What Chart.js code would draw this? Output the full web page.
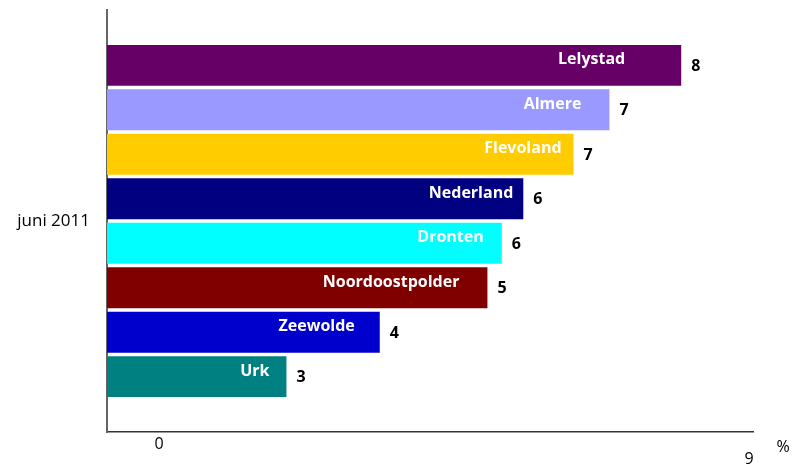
<!DOCTYPE html>
<html><head><meta charset="utf-8">
<script src="https://cdn.jsdelivr.net/npm/chart.js@4"></script>
<style>html,body{margin:0;padding:0;background:#fff}#w{width:795px;height:468px}</style>
</head><body><div id="w"><canvas id="c" width="795" height="468"></canvas></div>
<script>
const categories = ['juni 2011'];
const seriesNames = ['Lelystad','Almere','Flevoland','Nederland','Dronten','Noordoostpolder','Zeewolde','Urk'];
const seriesValues = [8.0, 7.0, 6.5, 5.8, 5.5, 5.3, 3.8, 2.5];
const valueLabels = ['8','7','7','6','6','5','4','3'];
const xTickLabels = ['0','9'];
const xUnit = '%';

const colors = ['#660066','#9999FF','#FFCC00','#000080','#00FFFF','#800000','#0000CC','#008080'];
const nameInsets = [56,28,12,10,18,28,25,17];
const FONT = '"Open Sans", sans-serif';

const labelPlugin = {
  id:'labels',
  afterDatasetsDraw(chart){
    const ctx = chart.ctx;
    ctx.save();
    chart.data.datasets.forEach((ds,i)=>{
      const bar = chart.getDatasetMeta(i).data[0];
      const top = bar.y - bar.height/2;
      ctx.font = 'bold 16px ' + FONT;
      ctx.fillStyle = '#ffffff';
      ctx.textAlign = 'right';
      ctx.textBaseline = 'middle';
      ctx.fillText(ds.label, bar.x - nameInsets[i], top + 15);
      ctx.font = 'bold 16px ' + FONT;
      ctx.fillStyle = '#000000';
      ctx.textAlign = 'left';
      ctx.fillText(valueLabels[i], bar.x + 10, bar.y + 1);
    });
    const xs = chart.scales.x;
    ctx.font = '16px ' + FONT;
    ctx.fillStyle = '#000';
    ctx.textAlign = 'center';
    ctx.textBaseline = 'middle';
    ctx.fillText(xTickLabels[0], xs.getPixelForValue(0) + 52, 444);
    ctx.fillText(xTickLabels[1], xs.getPixelForValue(9) - 4, 459);
    ctx.fillText(xUnit, xs.getPixelForValue(9) + 30, 447);
    ctx.restore();
  }
};

new Chart(document.getElementById('c'), {
  type:'bar',
  data:{
    labels: categories,
    datasets: seriesNames.map((n,i)=>({label:n, data:[seriesValues[i]], backgroundColor:colors[i], borderWidth:0}))
  },
  options:{
    indexAxis:'y',
    responsive:false,
    animation:false,
    devicePixelRatio:1,
    layout:{padding:{top:10,right:42,left:0,bottom:0}},
    datasets:{bar:{categoryPercentage:0.843, barPercentage:0.92}},
    plugins:{legend:{display:false}, tooltip:{enabled:false}},
    scales:{
      x:{min:0,max:9,
        grid:{display:false, drawTicks:false},
        border:{display:true,color:'#333',width:1.5},
        ticks:{display:false},
        afterFit(s){s.height=36; s.paddingLeft=0; s.paddingRight=0;}
      },
      y:{
        grid:{display:false, drawTicks:false},
        border:{display:true,color:'#666',width:2},
        ticks:{color:'#000',font:{family:FONT,size:17},padding:17},
        afterFit(s){s.width=107; s.paddingTop=0; s.paddingBottom=0;}
      }
    }
  },
  plugins:[labelPlugin]
});
</script></body></html>
